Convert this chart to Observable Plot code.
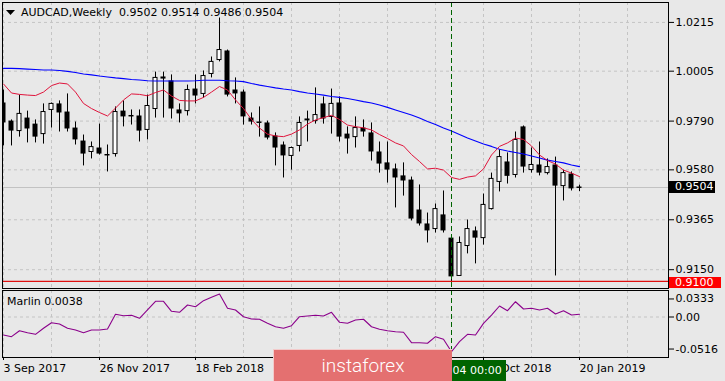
<!DOCTYPE html>
<html><head><meta charset="utf-8">
<script src="https://cdn.jsdelivr.net/npm/d3@7"></script>
<script src="https://cdn.jsdelivr.net/npm/@observablehq/plot@0.6"></script>
<style>
html,body{margin:0;padding:0;background:#e8e8e8;}
#wrap{position:relative;width:725px;height:381px;overflow:hidden;background:#e8e8e8;font-family:"DejaVu Sans",sans-serif;font-size:11px;color:#000;}
#wrap svg.plotsvg{position:absolute;left:0;}
.ov{position:absolute;white-space:pre;line-height:13px;}
</style></head><body><div id="wrap"></div>
<script>
// ---- data ----
const symbol = "AUDCAD,Weekly";
const headerOHLC = [0.9502, 0.9514, 0.9486, 0.9504];
const indicatorName = "Marlin";
const indicatorLast = 0.0038;
const lastClose = 0.9504;
const supportLevel = 0.9100;
const markerWeek = 56;
const markerLabel = "04 00:00";
const bannerText = "instaforex";

const opens = [0.9868,0.9790,0.9747,0.9803,0.9777,0.9734,0.9838,0.9864,0.9829,0.9760,
0.9704,0.9657,0.9674,0.9642,0.9648,0.9833,0.9810,0.9812,0.9752,0.9842,
0.9980,0.9963,0.9838,0.9833,0.9928,0.9907,0.9993,1.0053,1.0092,0.9924,
0.9915,0.9803,0.9782,0.9782,0.9726,0.9687,0.9640,0.9683,0.9793,0.9790,
0.9864,0.9808,0.9868,0.9734,0.9721,0.9760,0.9739,0.9657,0.9610,0.9584,
0.9554,0.9536,0.9407,0.9347,0.9325,0.9386,0.9286,0.9123,0.9252,0.9317,
0.9286,0.9411,0.9528,0.9614,0.9558,0.9765,0.9579,0.9601,0.9566,0.9601,
0.9510,0.9562,0.9502];
const highs = [0.9924,0.9795,0.9902,0.9833,0.9795,0.9864,0.9868,0.9877,0.9907,0.9786,
0.9730,0.9700,0.9777,0.9687,0.9851,0.9877,0.9838,0.9838,0.9902,1.0001,
1.0001,0.9989,0.9864,0.9945,0.9989,1.0006,1.0066,1.0234,1.0096,0.9976,
0.9924,0.9825,0.9851,0.9790,0.9739,0.9700,0.9678,0.9808,0.9833,0.9933,
0.9894,0.9928,0.9894,0.9765,0.9808,0.9795,0.9782,0.9700,0.9700,0.9605,
0.9610,0.9549,0.9515,0.9394,0.9433,0.9489,0.9295,0.9291,0.9364,0.9334,
0.9476,0.9566,0.9666,0.9653,0.9743,0.9769,0.9674,0.9700,0.9627,0.9635,
0.9579,0.9571,0.9514];
const lows = [0.9683,0.9683,0.9721,0.9696,0.9696,0.9691,0.9760,0.9743,0.9743,0.9687,
0.9597,0.9627,0.9644,0.9571,0.9635,0.9765,0.9773,0.9700,0.9709,0.9803,
0.9803,0.9799,0.9782,0.9812,0.9864,0.9889,0.9976,1.0045,0.9894,0.9864,
0.9773,0.9773,0.9721,0.9709,0.9597,0.9545,0.9579,0.9657,0.9700,0.9777,
0.9777,0.9734,0.9700,0.9648,0.9674,0.9721,0.9618,0.9566,0.9523,0.9416,
0.9467,0.9360,0.9338,0.9265,0.9308,0.9308,0.9093,0.9123,0.9218,0.9175,
0.9256,0.9407,0.9485,0.9519,0.9545,0.9566,0.9566,0.9554,0.9558,0.9123,
0.9446,0.9489,0.9486];
const closes = [0.9782,0.9747,0.9821,0.9756,0.9721,0.9829,0.9864,0.9825,0.9756,0.9709,
0.9648,0.9678,0.9648,0.9644,0.9829,0.9808,0.9812,0.9747,0.9855,0.9976,
0.9971,0.9842,0.9821,0.9924,0.9898,0.9984,1.0045,1.0096,0.9902,0.9907,
0.9808,0.9786,0.9784,0.9717,0.9674,0.9640,0.9674,0.9782,0.9797,0.9816,
0.9799,0.9864,0.9721,0.9713,0.9760,0.9743,0.9657,0.9605,0.9579,0.9545,
0.9532,0.9368,0.9347,0.9317,0.9411,0.9317,0.9119,0.9265,0.9325,0.9286,
0.9429,0.9541,0.9635,0.9552,0.9709,0.9592,0.9601,0.9566,0.9592,0.9510,
0.9566,0.9498,0.9504];
const slowMA = [1.0017,1.0017,1.0016,1.0014,1.0012,1.0010,1.0010,1.0008,1.0004,0.9999,
0.9993,0.9989,0.9984,0.9980,0.9976,0.9973,0.9969,0.9967,0.9964,0.9963,
0.9963,0.9963,0.9963,0.9963,0.9964,0.9966,0.9966,0.9966,0.9964,0.9963,
0.9960,0.9952,0.9945,0.9939,0.9933,0.9928,0.9924,0.9917,0.9911,0.9907,
0.9902,0.9896,0.9892,0.9887,0.9881,0.9874,0.9868,0.9859,0.9849,0.9838,
0.9827,0.9816,0.9803,0.9788,0.9775,0.9760,0.9747,0.9732,0.9717,0.9704,
0.9691,0.9681,0.9669,0.9661,0.9655,0.9648,0.9640,0.9631,0.9622,0.9616,
0.9610,0.9601,0.9594];
const fastMA = [0.9950,0.9911,0.9905,0.9902,0.9900,0.9915,0.9943,0.9954,0.9950,0.9915,
0.9866,0.9844,0.9827,0.9812,0.9846,0.9881,0.9907,0.9905,0.9899,0.9913,
0.9924,0.9898,0.9879,0.9877,0.9877,0.9892,0.9915,0.9939,0.9924,0.9881,
0.9844,0.9797,0.9760,0.9734,0.9726,0.9723,0.9734,0.9752,0.9777,0.9795,
0.9805,0.9815,0.9797,0.9773,0.9766,0.9761,0.9752,0.9732,0.9715,0.9696,
0.9683,0.9646,0.9616,0.9584,0.9587,0.9579,0.9547,0.9539,0.9549,0.9554,
0.9584,0.9644,0.9681,0.9696,0.9717,0.9711,0.9683,0.9644,0.9620,0.9605,
0.9579,0.9566,0.9551];
const marlin = [-0.0254,-0.0277,-0.0193,-0.0221,-0.0244,-0.0159,-0.0080,-0.0099,-0.0159,-0.0183,
-0.0221,-0.0183,-0.0183,-0.0169,0.0038,0.0018,0.0024,-0.0018,0.0099,0.0221,
0.0221,0.0080,0.0066,0.0169,0.0145,0.0230,0.0277,0.0324,0.0123,0.0099,
0.0004,-0.0028,-0.0032,-0.0089,-0.0137,-0.0159,-0.0123,0.0004,0.0014,0.0024,
0.0014,0.0066,-0.0075,-0.0089,-0.0042,-0.0032,-0.0137,-0.0173,-0.0193,-0.0207,
-0.0215,-0.0362,-0.0362,-0.0370,-0.0277,-0.0314,-0.0489,-0.0348,-0.0244,-0.0254,
-0.0089,0.0028,0.0155,0.0089,0.0215,0.0113,0.0123,0.0099,0.0123,0.0042,
0.0089,0.0028,0.0038];
const priceTicks = [1.0215, 1.0005, 0.9790, 0.9580, 0.9365, 0.9150];
const gridWeeks = [0, 6, 12, 18, 24, 30, 36, 42, 48, 54, 60, 66, 72, 78];
// labels at weeks 36 and 48 lie fully under the banner in the reference and are not shown
const dateTicks = [0, 12, 24, 60, 72];
const dateLabels = ["3 Sep 2017", "26 Nov 2017", "18 Feb 2018", "28 Oct 2018", "20 Jan 2019"];

// ---- build ----
const candles = opens.map((o, i) => ({k: i, o, h: highs[i], l: lows[i], c: closes[i]}));
const bull = candles.filter(d => d.c >= d.o);
const bear = candles.filter(d => d.c < d.o);
const half = 0.3125;
const xDomain = [-0.125, 83.125];
const gridStyle = {stroke: "#c4c4c4", strokeOpacity: 1, strokeDasharray: "3,3"};
const style = {background: "transparent", fontFamily: "DejaVu Sans", fontSize: "11px", color: "#000", overflow: "visible"};

const main = Plot.plot({
  width: 725, height: 289,
  marginLeft: 2, marginRight: 57, marginTop: 2, marginBottom: 1,
  style,
  x: {domain: xDomain, axis: null},
  y: {domain: [0.906899, 1.030079], axis: null},
  marks: [
    Plot.gridX(gridWeeks, gridStyle),
    Plot.gridY(priceTicks, gridStyle),
    Plot.ruleY([lastClose], {stroke: "#c2c2c2"}),
    Plot.ruleX(candles, {x: "k", y1: "l", y2: "h", stroke: "#000", clip: true}),
    Plot.rect(bear, {x1: d => d.k - half, x2: d => d.k + half, y1: "o", y2: "c", fill: "#000", clip: true}),
    Plot.rect(bull, {x1: d => d.k - half, x2: d => d.k + half, y1: "o", y2: "c", fill: "#fff", stroke: "#000", insetLeft: 0.5, insetRight: 0.5, clip: true}),
    Plot.line(slowMA, {x: (d, i) => i, y: d => d, stroke: "#0000ff", strokeWidth: 1.1, clip: true}),
    Plot.line(fastMA, {x: (d, i) => i, y: d => d, stroke: "#e0143c", strokeWidth: 1, clip: true}),
    Plot.ruleY([supportLevel], {stroke: "#e01010", strokeWidth: 1.2}),
    Plot.ruleX([markerWeek], {stroke: "#006400", strokeDasharray: "5,3"}),
    Plot.frame({stroke: "#000"}),
    Plot.axisY(priceTicks, {anchor: "right", tickSize: 5, tickPadding: 2, tickFormat: d => d.toFixed(4)})
  ]
});
main.classList.add("plotsvg");
main.style.top = "0px";

const sub = Plot.plot({
  width: 725, height: 92,
  marginLeft: 2, marginRight: 57, marginTop: 1, marginBottom: 24,
  style,
  x: {domain: xDomain, axis: null},
  y: {domain: [-0.057042, 0.037324], axis: null},
  marks: [
    Plot.gridX(gridWeeks, gridStyle),
    Plot.gridY([0], gridStyle),
    Plot.ruleX([markerWeek], {stroke: "#006400", strokeDasharray: "5,3"}),
    Plot.line(marlin, {x: (d, i) => i, y: d => d, stroke: "#8b008b", strokeWidth: 1.1}),
    Plot.frame({stroke: "#000"}),
    Plot.axisY([0.0333], {anchor: "right", tickSize: 5, tickPadding: 2, dy: 5.6, tickFormat: d => d.toFixed(4)}),
    Plot.axisY([0], {anchor: "right", tickSize: 5, tickPadding: 2, tickFormat: () => "0.00"}),
    Plot.axisY([-0.0516], {anchor: "right", tickSize: 5, tickPadding: 2, dy: -4.6, tickFormat: d => d.toFixed(4)}),
    Plot.axisX(dateTicks, {anchor: "bottom", tickSize: 3, tickPadding: 4, textAnchor: "start", tickFormat: d => dateLabels[dateTicks.indexOf(d)]})
  ]
});
sub.classList.add("plotsvg");
sub.style.top = "289px";

const wrap = document.getElementById("wrap");
wrap.appendChild(main);
wrap.appendChild(sub);

function ov(text, css) {
  const d = document.createElement("div");
  d.className = "ov";
  d.style.cssText = css;
  d.textContent = text;
  wrap.appendChild(d);
  return d;
}

// title + triangle
const tri = document.createElementNS("http://www.w3.org/2000/svg", "svg");
tri.setAttribute("width", "10"); tri.setAttribute("height", "6");
tri.style.cssText = "position:absolute;left:6px;top:10px;";
tri.innerHTML = '<polygon points="0,0 9,0 4.5,5" fill="#000"/>';
wrap.appendChild(tri);
ov(symbol + "  " + headerOHLC.map(v => v.toFixed(4)).join(" "), "left:21px;top:6px;color:#000;");
ov(indicatorName + " " + indicatorLast.toFixed(4), "left:7px;top:295px;color:#000;");

// price boxes via the y scale
const ys = main.scale("y");
const yLast = ys.apply(lastClose) + 0.5;
const ySup = ys.apply(supportLevel) + 0.5;
ov(lastClose.toFixed(4), `left:669px;top:${yLast - 6}px;width:40px;height:12px;line-height:12px;padding-left:6px;background:#000;color:#fff;`);
ov(supportLevel.toFixed(4), `left:669px;top:${ySup - 4.5}px;width:46px;height:11.5px;line-height:11.5px;padding-left:6px;background:#ff0000;color:#fff;`);

// marker date box via the x scale
const xs = sub.scale("x");
const xm = xs.apply(markerWeek) + 0.5;
ov(markerLabel, `left:${xm}px;top:360px;width:53px;height:21px;line-height:21px;padding-left:1px;background:#006400;color:#fff;`);

// banner
ov(bannerText, "left:273px;top:349px;width:178px;height:31px;line-height:31px;text-align:center;background:#e47070;color:#fff;font-family:Roboto,sans-serif;font-weight:300;font-size:19px;border-top:1px solid #f3caca;border-left:1px solid #f3caca;");
</script>
</body></html>
